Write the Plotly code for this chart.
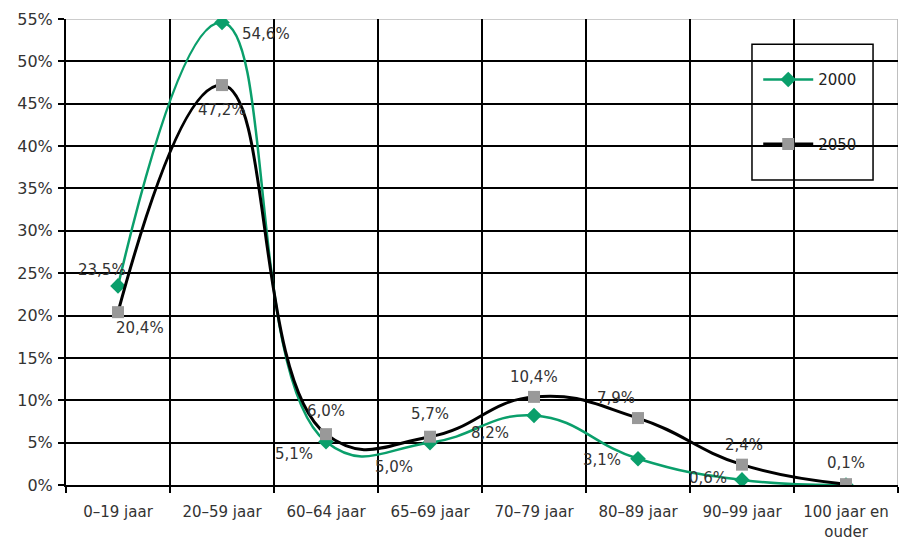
import plotly.graph_objects as go

categories = ["0–19 jaar", "20–59 jaar", "60–64 jaar", "65–69 jaar", "70–79 jaar",
              "80–89 jaar", "90–99 jaar", "100 jaar en<br>ouder"]
values_2000 = [23.5, 54.6, 5.1, 5.0, 8.2, 3.1, 0.6, 0.0]
values_2050 = [20.4, 47.2, 6.0, 5.7, 10.4, 7.9, 2.4, 0.1]
labels_2000 = ["23,5%", "54,6%", "5,1%", "5,0%", "8,2%", "3,1%", "0,6%", ""]
labels_2050 = ["20,4%", "47,2%", "6,0%", "5,7%", "10,4%", "7,9%", "2,4%", "0,1%"]
y_ticks = list(range(0, 56, 5))

# label offsets in pixels (right, down)
off_2000 = [(-16, -16), (44, 12), (-32, 12), (-36, 24), (-44, 17), (-36, 1), (-34, -2), (0, 0)]
off_2050 = [(22, 16), (0, 25), (0, -23), (0, -23), (0, -20), (-22, -20), (2, -20), (0, -21)]

FONT = "DejaVu Sans, Liberation Sans, Arial, sans-serif"
green = "#0a9f6b"
xs = list(range(len(categories)))

fig = go.Figure()
fig.add_trace(go.Scatter(
    x=xs, y=values_2000, name="2000", mode="lines+markers",
    line=dict(color=green, width=2.5, shape="spline", smoothing=1.3),
    marker=dict(symbol="diamond", size=12, color=green),
    legendgroup="a"))
fig.add_trace(go.Scatter(
    x=xs, y=values_2050, name="2050", mode="lines+markers",
    line=dict(color="black", width=3, shape="spline", smoothing=1.3),
    marker=dict(symbol="square", size=12, color="#999999"),
    legendgroup="b"))

for vals, labs, offs in ((values_2000, labels_2000, off_2000), (values_2050, labels_2050, off_2050)):
    for i, (v, t, o) in enumerate(zip(vals, labs, offs)):
        if not t:
            continue
        fig.add_annotation(x=i, y=v, text=t, showarrow=False,
                           xshift=o[0], yshift=-o[1],
                           font=dict(family=FONT, size=15, color="#333333"))

# legend box
fig.add_shape(type="rect", xref="paper", yref="paper",
              x0=0.8245, x1=0.970, y0=0.6545, y1=0.946,
              line=dict(color="black", width=1.5), fillcolor="white", layer="between")
# right border and top line
fig.add_shape(type="line", xref="x", yref="paper", x0=7.5, x1=7.5, y0=0, y1=1,
              line=dict(color="#aaaaaa", width=1.5), layer="between")
fig.add_shape(type="line", xref="paper", yref="y", x0=0, x1=1, y0=55, y1=55,
              line=dict(color="#bbbbbb", width=1.5), layer="between")

fig.update_layout(
    width=904, height=539,
    margin=dict(l=66, r=6, t=19, b=54),
    plot_bgcolor="white", paper_bgcolor="white",
    font=dict(family=FONT, size=15, color="#333333"),
    showlegend=True,
    legend=dict(x=0.832, y=0.905, xanchor="left", yanchor="top",
                bgcolor="rgba(0,0,0,0)", borderwidth=0,
                traceorder="grouped", tracegroupgap=42,
                font=dict(family=FONT, size=15, color="#222222"),
                itemwidth=50),
)
fig.update_xaxes(
    range=[-0.5, 7.5], tickmode="array", tickvals=xs, ticktext=categories,
    showgrid=False, ticks="", showline=True, linecolor="black", linewidth=2,
    minor=dict(tick0=-0.5, dtick=1, showgrid=True, gridcolor="black", gridwidth=1.5,
               ticks="outside", ticklen=6, tickcolor="black", tickwidth=1.5),
    zeroline=False, ticklabelstandoff=12, tickfont=dict(size=15), automargin=False,
)
fig.update_yaxes(
    range=[0, 55], tickvals=y_ticks, ticktext=[f"{t}%" for t in y_ticks],
    showgrid=True, gridcolor="black", gridwidth=1.5,
    ticks="outside", ticklen=6, tickcolor="black", tickwidth=1.5,
    showline=True, linecolor="black", linewidth=2, zeroline=False,
    tickfont=dict(size=16, color="#333333"), ticklabelstandoff=2, automargin=False,
)
fig.write_html("out.html")
